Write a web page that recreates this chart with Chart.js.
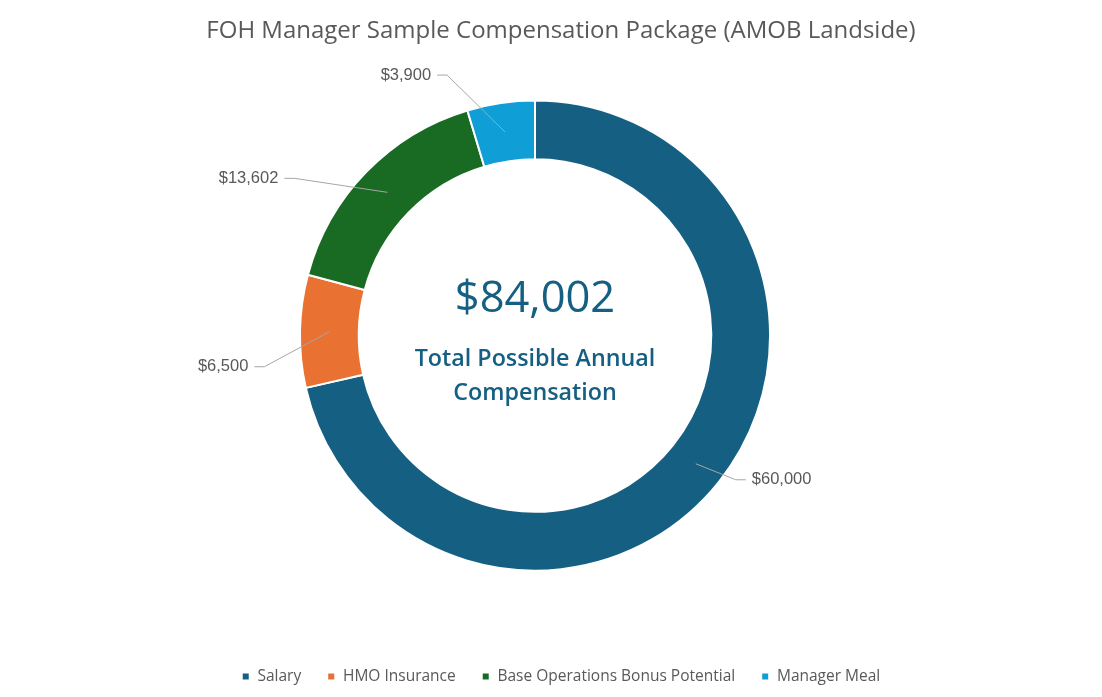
<!DOCTYPE html>
<html lang="en">
<head>
    <meta charset="UTF-8">
    <title>FOH Manager Sample Compensation Package</title>
    <script src="https://cdn.jsdelivr.net/npm/chart.js@4.4.1/dist/chart.umd.min.js"></script>
    <style>
        body {
            margin: 0;
            background: #ffffff;
        }
        .chart-container {
            width: 1102px;
            height: 697px;
        }
    </style>
</head>
<body>
    <div class="chart-container">
        <canvas id="compChart"></canvas>
    </div>

    <script>
        const categories = ['Salary', 'HMO Insurance', 'Base Operations Bonus Potential', 'Manager Meal'];
        const amounts = [60000, 6500, 13602, 3900];
        const sliceColors = ['#156082', '#E97132', '#196B24', '#0F9ED5'];
        const centerLines = ['Total Possible Annual', 'Compensation'];

        const fmt = v => '$' + v.toLocaleString('en-US');

        // move the boxes so the ring sits left of the title/legend centre, as in the original
        const shiftArea = {
            id: 'shiftArea',
            afterLayout(chart, args, opts) {
                chart.chartArea.left += opts.dx;
                chart.chartArea.right += opts.dx;
            }
        };

        // total in the hole of the doughnut
        const centerText = {
            id: 'centerText',
            afterDatasetsDraw(chart) {
                const arc = chart.getDatasetMeta(0).data[0];
                if (!arc) return;
                const ctx = chart.ctx;
                const total = amounts.reduce((a, b) => a + b, 0);
                ctx.save();
                ctx.fillStyle = '#156082';
                ctx.textAlign = 'center';
                ctx.textBaseline = 'middle';
                ctx.font = '500 43.5px "Open Sans"';
                ctx.fillText(fmt(total), arc.x, arc.y - 36);
                ctx.font = '600 23.3px "Open Sans"';
                ctx.fillText(centerLines[0], arc.x, arc.y + 24);
                ctx.fillText(centerLines[1], arc.x, arc.y + 58);
                ctx.restore();
            }
        };

        // value labels outside the ring with leader lines
        const leaderLabels = {
            id: 'leaderLabels',
            afterDatasetsDraw(chart, args, opts) {
                const ctx = chart.ctx;
                const meta = chart.getDatasetMeta(0);
                ctx.save();
                ctx.font = '16.5px "Liberation Sans"';
                ctx.textBaseline = 'middle';
                meta.data.forEach((arc, i) => {
                    const mid = (arc.startAngle + arc.endAngle) / 2;
                    const r = (arc.innerRadius + arc.outerRadius) / 2;
                    const ax = arc.x + Math.cos(mid) * r;
                    const ay = arc.y + Math.sin(mid) * r;
                    const off = opts.offsets[i];
                    const ex = ax + off[0];
                    const ey = ay + off[1];
                    const dir = off[0] < 0 ? -1 : 1;
                    const hx = ex + dir * 10;
                    ctx.strokeStyle = '#a6a6a6';
                    ctx.lineWidth = 1;
                    ctx.beginPath();
                    ctx.moveTo(ax, ay);
                    ctx.lineTo(ex, ey);
                    ctx.lineTo(hx, ey);
                    ctx.stroke();
                    ctx.fillStyle = '#595959';
                    ctx.textAlign = dir < 0 ? 'right' : 'left';
                    ctx.fillText(fmt(amounts[i]), hx + dir * 6, ey);
                });
                ctx.restore();
            }
        };

        new Chart(document.getElementById('compChart'), {
            type: 'doughnut',
            data: {
                labels: categories,
                datasets: [{
                    data: amounts,
                    backgroundColor: sliceColors,
                    borderColor: '#ffffff',
                    borderWidth: 2,
                    hoverOffset: 0
                }]
            },
            options: {
                responsive: true,
                maintainAspectRatio: false,
                animation: false,
                cutout: '75%',
                layout: {
                    padding: { left: 20, right: 0, top: 0, bottom: 2.7 }
                },
                plugins: {
                    title: {
                        display: true,
                        text: 'FOH Manager Sample Compensation Package (AMOB Landside)',
                        color: '#595959',
                        font: { family: '"Open Sans"', size: 24, weight: 'normal' },
                        padding: { top: 16.5, bottom: 54.2 }
                    },
                    legend: {
                        position: 'bottom',
                        title: {
                            display: true,
                            text: '',
                            padding: { top: 56.8, bottom: 0 }
                        },
                        labels: {
                            boxWidth: 8,
                            boxHeight: 8,
                            padding: 26,
                            color: '#595959',
                            font: { family: '"Open Sans"', size: 15.5 }
                        }
                    },
                    tooltip: {
                        callbacks: {
                            label: item => fmt(item.raw)
                        }
                    },
                    shiftArea: { dx: -26 },
                    leaderLabels: {
                        offsets: [[40, 16], [-65, 35], [-93, -14], [-58, -57]]
                    }
                }
            },
            plugins: [shiftArea, centerText, leaderLabels]
        });
    </script>
</body>
</html>
